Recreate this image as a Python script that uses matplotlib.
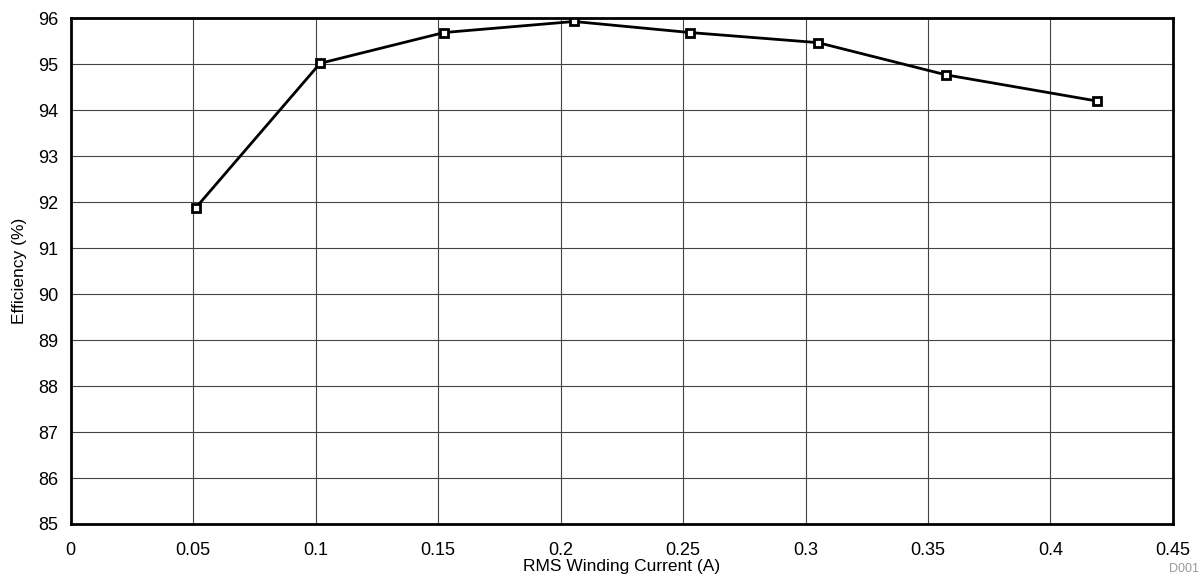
#!/usr/bin/env python3

import matplotlib
matplotlib.use("Agg")
import matplotlib.pyplot as plt

plt.rcParams['font.family'] = ['Liberation Sans', 'DejaVu Sans']

current = [0.0511, 0.1018, 0.1524, 0.2055, 0.2528, 0.3051, 0.3573, 0.419]
efficiency = [91.88, 95.02, 95.69, 95.93, 95.69, 95.47, 94.77, 94.20]
xticks = [0, 0.05, 0.1, 0.15, 0.2, 0.25, 0.3, 0.35, 0.4, 0.45]
xticklabels = ['0', '0.05', '0.1', '0.15', '0.2', '0.25', '0.3', '0.35', '0.4', '0.45']
yticks = list(range(85, 97))

fig = plt.figure(figsize=(12.03, 5.82), dpi=100)
ax = fig.add_axes([0.0588, 0.0997, 0.9162, 0.8689])

ax.plot(current, efficiency, color='black', lw=2, marker='s', ms=6,
        mfc='white', mec='black', mew=2)

ax.set_xlim(0, 0.45)
ax.set_ylim(85, 96)
ax.set_xticks(xticks)
ax.set_xticklabels(xticklabels)
ax.set_yticks(yticks)
ax.grid(True, color='#444444', lw=0.8)
ax.set_axisbelow(True)
ax.tick_params(length=0, labelsize=13)
ax.tick_params(axis='x', pad=13)
ax.tick_params(axis='y', pad=9)
for s in ax.spines.values():
    s.set_linewidth(2)

ax.set_xlabel('RMS Winding Current (A)', fontsize=12.5, labelpad=0)
ax.set_ylabel('Efficiency (%)', fontsize=12.5, labelpad=8)
fig.text(0.997, 0.012, 'D001', color='#999999', fontsize=9, ha='right', va='bottom')

fig.savefig('out.png', dpi=100)
